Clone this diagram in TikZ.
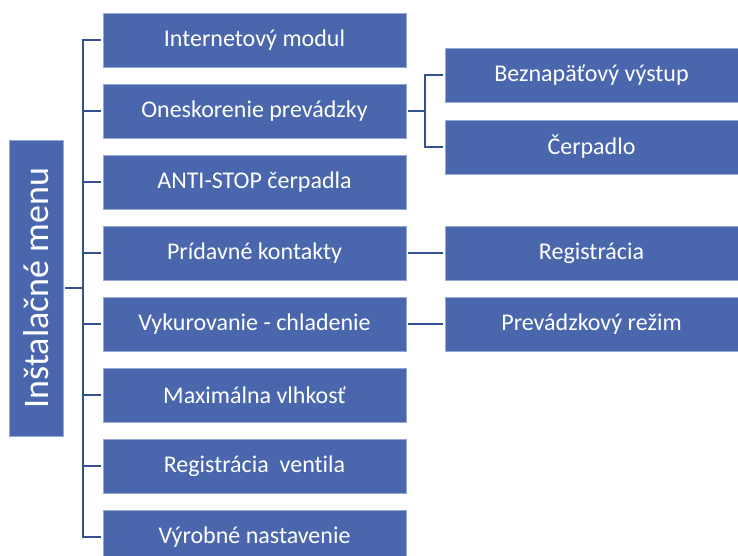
\documentclass[tikz,border=0pt]{standalone}
\usepackage{fontspec}
\setmainfont{Carlito}[Ligatures=CommonOff]
\usepackage{tikz}

\definecolor{boxblue}{RGB}{74,103,174}
\definecolor{edgeblue}{RGB}{150,168,212}
\definecolor{linkblue}{RGB}{52,80,144}

\tikzset{
  menubox/.style={draw=edgeblue, line width=0.6pt, fill=boxblue, text=white, inner sep=0.75pt,
    minimum width=227.25pt, minimum height=40.5pt, font=\fontsize{18}{21}\selectfont},
  subbox/.style={menubox, minimum width=219.75pt},
  rootbox/.style={menubox, rotate=90, minimum width=222pt, font=\fontsize{27}{31}\selectfont},
  link/.style={draw=linkblue, line width=1.8pt, shorten >=1.5pt, shorten <=1.5pt}
}

\begin{document}
\begin{tikzpicture}[x=0.75pt,y=0.75pt,yscale=-1,xscale=1]
%set diagram left start at 0, and has height of 556
\clip (0,0) rectangle (738,556);

% Root Node
\node [rootbox] (root) at (36,288) {Inštalačné menu};

% Menu Nodes
\node [menubox] (m1) at (254.5,40) {Internetový modul};
\node [menubox] (m2) at (254.5,111) {Oneskorenie prevádzky};
\node [menubox] (m3) at (254.5,182) {ANTI-STOP čerpadla};
\node [menubox] (m4) at (254.5,253) {Prídavné kontakty};
\node [menubox] (m5) at (254.5,324) {Vykurovanie - chladenie};
\node [menubox] (m6) at (254.5,395) {Maximálna vlhkosť};
\node [menubox] (m7) at (254.5,466) {Registrácia~ ventila};
\node [menubox] (m8) at (254.5,537) {Výrobné nastavenie};

% Sub Nodes
\node [subbox] (s1) at (591.5,75) {Beznapäťový výstup};
\node [subbox] (s2) at (591.5,147) {Čerpadlo};
\node [subbox] (s3) at (591.5,253) {Registrácia};
\node [subbox] (s4) at (591.5,324) {Prevádzkový režim};

%Straight Lines
\coordinate (bus) at (83,288);
\coordinate (sbus) at (425,111);
\draw [link, shorten >=0pt] (root.south) -- (bus);
\draw [link] (m1.west) -| (bus) |- (m8.west);
\foreach \n in {2,...,7}
  \draw [link, shorten <=0pt] (bus |- m\n.west) -- (m\n.west);
\draw [link, shorten >=0pt] (m2.east) -- (sbus);
\draw [link] (s1.west) -| (sbus) |- (s2.west);
\draw [link] (m4.east) -- (s3.west);
\draw [link] (m5.east) -- (s4.west);

\end{tikzpicture}
\end{document}
